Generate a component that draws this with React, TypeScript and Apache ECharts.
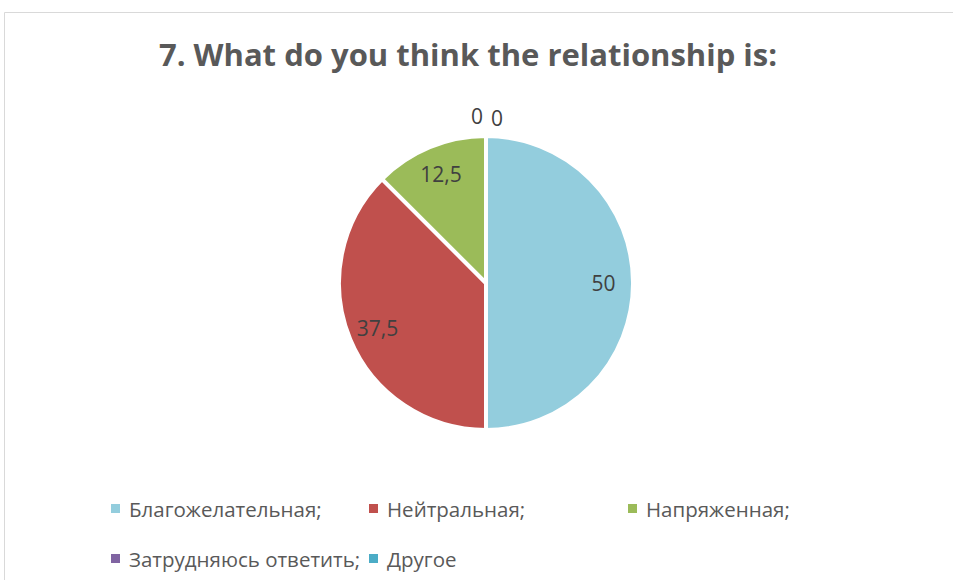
import React, { useEffect, useRef } from "react";
import * as echarts from "echarts";

const titleText = "7. What do you think the relationship is:";
const categories = ["Благожелательная;", "Нейтральная;", "Напряженная;", "Затрудняюсь ответить;", "Другое"];
const values = [50, 37.5, 12.5, 0, 0];
const colors = ["#93CDDD", "#C0504D", "#9BBB59", "#8064A2", "#4BACC6"];

const legendCols = [109, 367, 626];
const legendRows = [496.5, 546.5];
const zeroLabelOffsets = [
  [-9, -50],
  [11, -48],
];

export default function App() {
  const ref = useRef<HTMLDivElement>(null);

  useEffect(() => {
    if (!ref.current) return;
    const chart = echarts.init(ref.current, undefined, { renderer: "svg" });
    const font = "'Open Sans', 'Noto Sans', sans-serif";
    const data = categories.map((name, i) => ({
      name,
      value: values[i],
      itemStyle: { color: colors[i] },
    }));
    const zeroIdx = values.map((v, i) => (v === 0 ? i : -1)).filter((i) => i >= 0);

    chart.setOption({
      animation: false,
      backgroundColor: "#ffffff",
      graphic: [
        {
          type: "rect",
          silent: true,
          shape: { x: 4.5, y: 12.5, width: 1200, height: 800 },
          style: { fill: "none", stroke: "#D9D9D9", lineWidth: 1 },
        },
        {
          type: "text",
          x: 468,
          y: 54,
          silent: true,
          style: {
            text: titleText,
            fontFamily: font,
            fontWeight: "bold",
            fontSize: 31,
            fill: "#595959",
            align: "center",
            verticalAlign: "middle",
          },
        },
      ],
      legend: categories.map((name, i) => ({
        data: [name],
        left: legendCols[i % 3],
        top: legendRows[Math.floor(i / 3)],
        padding: 0,
        icon: "rect",
        itemWidth: 11,
        itemHeight: 11,
        selectedMode: false,
        textStyle: {
          fontFamily: font,
          fontSize: 20.5,
          lineHeight: 24,
          color: "#595959",
          padding: [0, 0, 0, 3],
        },
      })),
      series: [
        {
          type: "pie",
          center: [486, 283],
          radius: [0, 147],
          startAngle: 90,
          clockwise: true,
          silent: true,
          label: { show: false },
          labelLine: { show: false },
          itemStyle: { borderColor: "#ffffff", borderWidth: 4 },
          data,
        },
        {
          type: "pie",
          center: [486, 283],
          radius: [82, 147],
          startAngle: 90,
          clockwise: true,
          silent: true,
          avoidLabelOverlap: false,
          itemStyle: { color: "rgba(0,0,0,0)", borderWidth: 0 },
          label: {
            show: true,
            position: "inside",
            fontFamily: font,
            fontSize: 21,
            color: "#404040",
            formatter: (p: any) => String(p.value).replace(".", ","),
          },
          labelLine: { show: false },
          labelLayout: (p: any) => {
            const k = zeroIdx.indexOf(p.dataIndex);
            if (k >= 0) {
              const o = zeroLabelOffsets[k] || [0, -50];
              return { dx: o[0], dy: o[1] };
            }
            return {};
          },
          data: categories.map((name, i) => ({ name, value: values[i] })),
        },
      ],
    });
    return () => chart.dispose();
  }, []);

  return (
    <div
      ref={ref}
      style={{ position: "fixed", left: 0, top: 0, width: 953, height: 580, background: "#fff" }}
    />
  );
}
